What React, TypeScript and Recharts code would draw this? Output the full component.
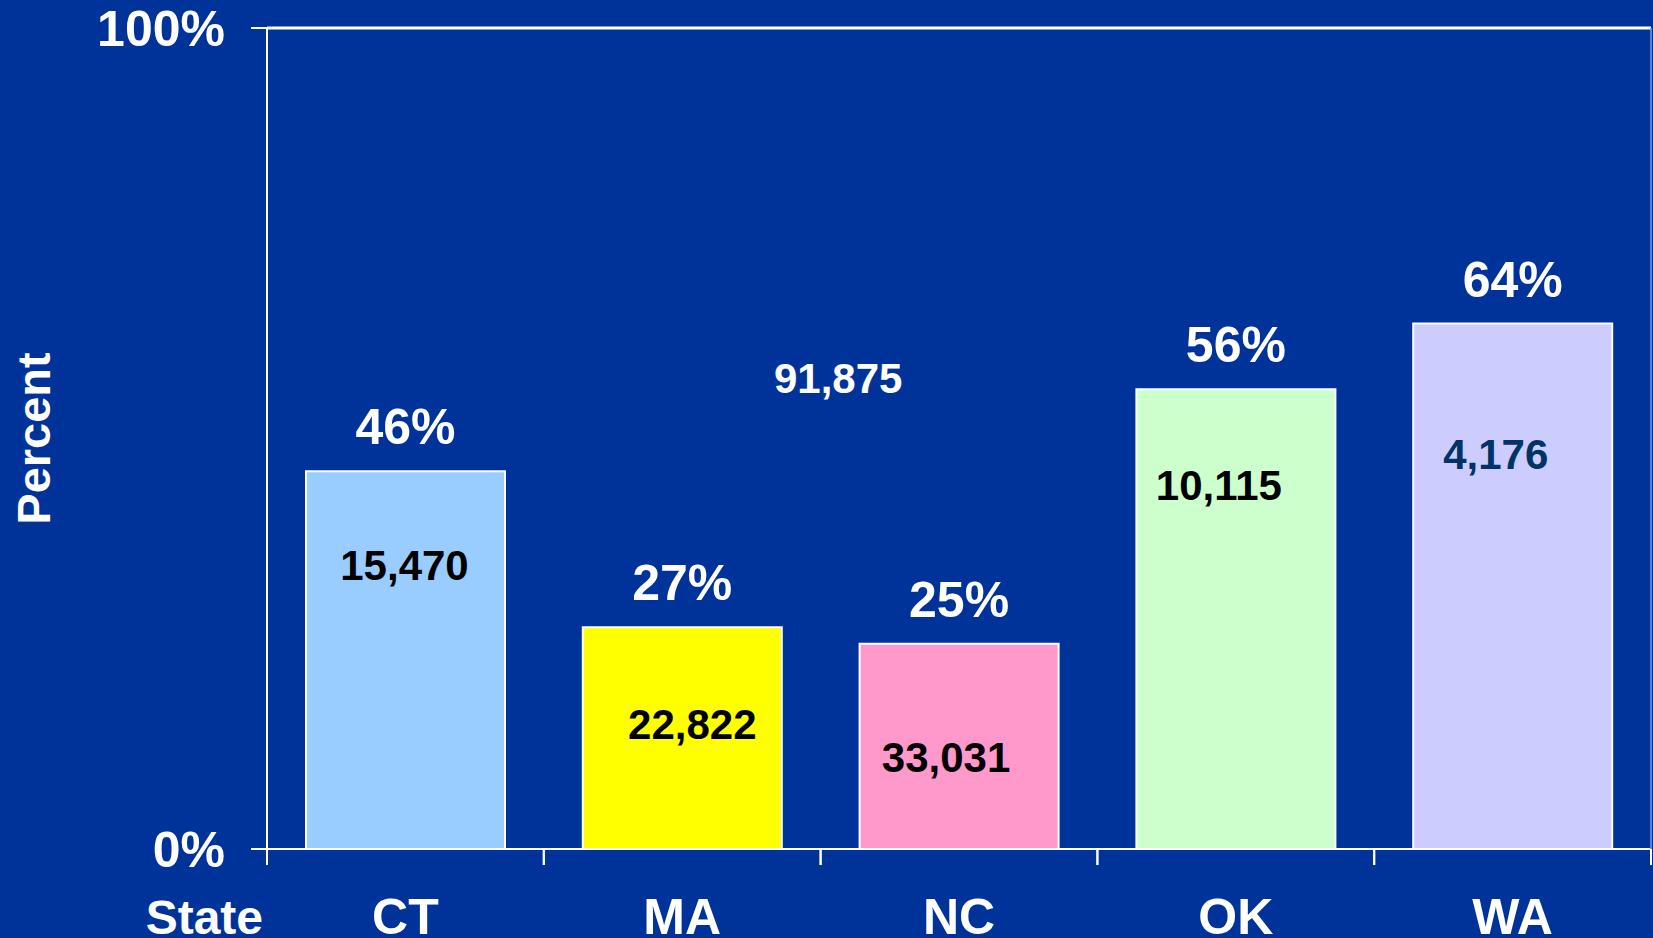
import {
  Bar,
  BarChart,
  Cell,
  LabelList,
  ReferenceDot,
  ReferenceLine,
  XAxis,
  YAxis,
} from "recharts";

const states = ["CT", "MA", "NC", "OK", "WA"];
const percents = [46, 27, 25, 56, 64];
const counts = [15470, 22822, 33031, 10115, 4176];
const yTicks = [0, 100];
const totalNote = "91,875";

const barColors = ["#99CCFF", "#FFFF00", "#FF99CC", "#CCFFCC", "#CCCCFF"];
const countColors = ["#000000", "#000000", "#000000", "#000000", "#003366"];
// count labels sit by hand inside the bars: [dx from bar centre, baseline below bar top]
const countShift = [
  [-1, 109],
  [10, 112],
  [-13, 128],
  [-17, 111],
  [-17, 145],
];
// the loose total sits between MA and NC
const notePos = { x: "MA", y: 55.6, dx: 156 };

const font = '"Liberation Sans", Arial, Helvetica, sans-serif';
const bg = "#003399";

const data = states.map((state, i) => ({
  state,
  pct: percents[i],
  count: counts[i],
}));

// category tick: name under the band, short tick marks on the band edges
function StateTick(props: any) {
  const { x, y, payload, index } = props;
  const half = payload.offset || 0;
  return (
    <g>
      <line x1={x - half} x2={x - half} y1={y} y2={y + 16} stroke="#fff" strokeWidth={2} />
      <line x1={x + half} x2={x + half} y1={y} y2={y + 16} stroke="#fff" strokeWidth={2} />
      {index === 0 && (
        <text
          x={x - half - 4}
          y={y + 85}
          textAnchor="end"
          fill="#fff"
          fontSize={48}
          fontWeight="bold"
          fontFamily={font}
        >
          State
        </text>
      )}
      <text
        x={x}
        y={y + 85}
        textAnchor="middle"
        fill="#fff"
        fontSize={50}
        fontWeight="bold"
        fontFamily={font}
      >
        {payload.value}
      </text>
    </g>
  );
}

function CountLabel(props: any) {
  const { x, y, width, value } = props;
  const i = props.index ?? counts.indexOf(Number(value));
  const [dx, dy] = countShift[i] || [0, 110];
  return (
    <text
      x={x + width / 2 + dx}
      y={y + dy}
      textAnchor="middle"
      fill={countColors[i]}
      fontSize={42}
      fontWeight="bold"
      fontFamily={font}
    >
      {Number(value).toLocaleString("en-US")}
    </text>
  );
}

export default function App() {
  return (
    <div
      style={{
        position: "fixed",
        left: 0,
        top: 0,
        width: 1653,
        height: 938,
        background: bg,
      }}
    >
      <BarChart
        width={1653}
        height={938}
        data={data}
        margin={{ top: 28, right: 0, left: 0, bottom: 0 }}
        barCategoryGap={0}
        style={{ fontFamily: font }}
      >
        <XAxis
          dataKey="state"
          height={89}
          interval={0}
          tickSize={0}
          tickMargin={0}
          tickLine={false}
          axisLine={{ stroke: "#fff", strokeWidth: 2 }}
          tick={<StateTick />}
        />
        <YAxis
          width={267}
          domain={[0, 100]}
          ticks={yTicks}
          interval={0}
          tickFormatter={(v) => `${v}%`}
          tickSize={16}
          tickMargin={26}
          tickLine={{ stroke: "#fff", strokeWidth: 2 }}
          axisLine={{ stroke: "#fff", strokeWidth: 2 }}
          tick={{ fill: "#fff", fontSize: 50, fontWeight: "bold", fontFamily: font }}
          label={({ viewBox }: any) => (
            <text
              transform={`translate(${viewBox.x + 50},${viewBox.y + viewBox.height / 2}) rotate(-90)`}
              textAnchor="middle"
              fill="#fff"
              fontSize={47}
              fontWeight="bold"
              fontFamily={font}
            >
              Percent
            </text>
          )}
        />
        <YAxis
          yAxisId="edge"
          orientation="right"
          width={2}
          domain={[0, 100]}
          tick={false}
          tickLine={false}
          axisLine={{ stroke: "#7f99d4", strokeWidth: 1.5 }}
        />
        <ReferenceLine y={100} stroke="#fff" strokeWidth={3} />
        <Bar
          dataKey="pct"
          barSize={199}
          stroke="#fff"
          strokeWidth={2}
          isAnimationActive={false}
        >
          {data.map((d, i) => (
            <Cell key={d.state} fill={barColors[i]} />
          ))}
          <LabelList
            dataKey="pct"
            position="top"
            offset={27}
            formatter={(v: any) => `${v}%`}
            fill="#fff"
            fontSize={50}
            fontWeight="bold"
            fontFamily={font}
          />
          <LabelList dataKey="count" content={<CountLabel />} />
        </Bar>
        <ReferenceDot
          x={notePos.x}
          y={notePos.y}
          r={0}
          fill="none"
          stroke="none"
          label={({ viewBox }: any) => (
            <text
              x={viewBox.x + (viewBox.width || 0) / 2 + notePos.dx}
              y={viewBox.y + (viewBox.height || 0) / 2}
              textAnchor="middle"
              fill="#fff"
              fontSize={42}
              fontWeight="bold"
              fontFamily={font}
            >
              {totalNote}
            </text>
          )}
        />
      </BarChart>
    </div>
  );
}
